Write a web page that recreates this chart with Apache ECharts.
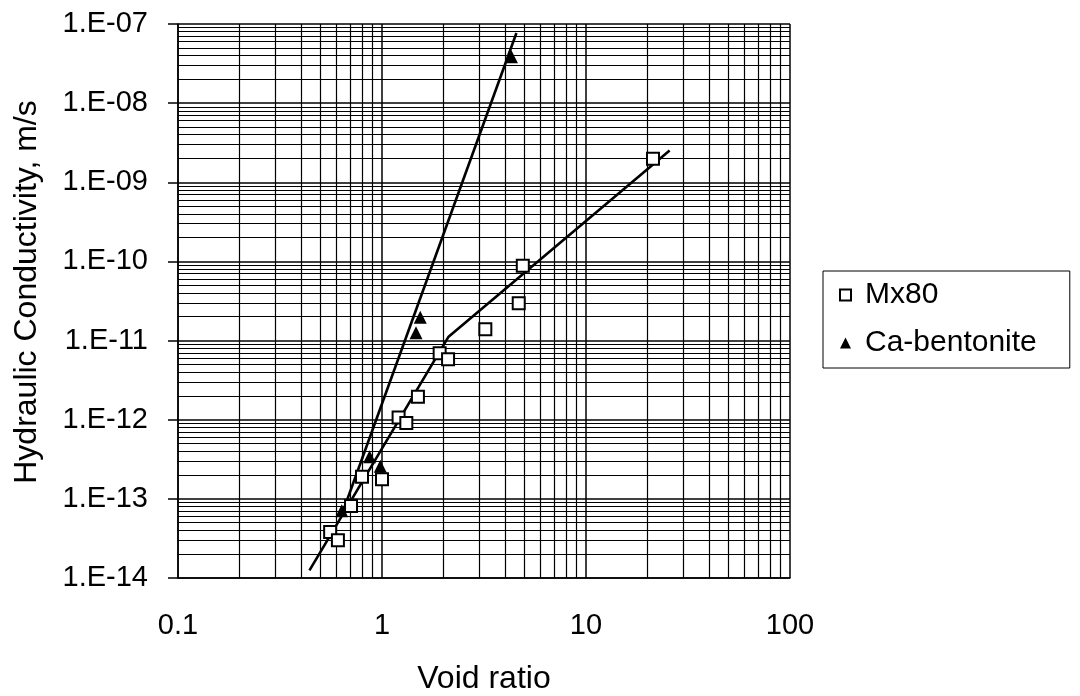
<!DOCTYPE html>
<html>
<head>
<meta charset="utf-8">
<script src="https://cdn.jsdelivr.net/npm/echarts@6/dist/echarts.min.js"></script>
<style>
  html, body { margin: 0; padding: 0; background: #fff; }
  #chart { width: 1080px; height: 696px; }
</style>
</head>
<body>
<div id="chart"></div>
<script>
// data (void ratio, hydraulic conductivity m/s)
const mx80X = [0.557, 0.608, 0.705, 0.798, 1.0, 1.206, 1.316, 1.5, 1.917, 2.108, 3.21, 4.68, 4.9, 21.3];
const mx80Y = [3.8e-14, 3.0e-14, 8.1e-14, 1.9e-13, 1.77e-13, 1.07e-12, 9.1e-13, 1.95e-12, 6.9e-12, 5.8e-12, 1.39e-11, 2.96e-11, 8.85e-11, 1.98e-9];
const caX = [0.635, 0.869, 0.981, 1.468, 1.54, 4.31];
const caY = [7.1e-14, 3.4e-13, 2.59e-13, 1.26e-11, 1.97e-11, 3.86e-8];

// hand drawn fit lines
const mx80LineX = [0.441, 2.12, 25.7];
const mx80LineY = [1.25e-14, 1.12e-11, 2.52e-9];
const caLineX = [0.631, 4.56];
const caLineY = [6.04e-14, 7.7e-8];

// axes
const xTickLabels = ['0.1', '1', '10', '100'];
const yTickLabels = ['1.E-14', '1.E-13', '1.E-12', '1.E-11', '1.E-10', '1.E-09', '1.E-08', '1.E-07'];
const xDecades = [0.1, 1, 10];
const yDecades = [1e-14, 1e-13, 1e-12, 1e-11, 1e-10, 1e-9, 1e-8];
const minorSteps = [2, 3, 4, 5, 6, 7, 8, 9];

const FONT = '"Liberation Sans", Arial, sans-serif';

function pairs(xs, ys) {
  return xs.map((x, i) => [x, ys[i]]);
}

// minor grid lines (2..9 in each decade)
let minorX = [];
xDecades.forEach(d => minorSteps.forEach(k => minorX.push({ xAxis: +(d * k).toPrecision(3) })));
let minorY = [];
yDecades.forEach(d => minorSteps.forEach(k => minorY.push({ yAxis: +(d * k).toPrecision(3) })));

const chart = echarts.init(document.getElementById('chart'));

chart.setOption({
  animation: false,
  backgroundColor: '#fff',
  grid: {
    left: 178,
    right: 290,
    top: 24,
    bottom: 118,
    containLabel: false,
    outerBoundsMode: 'none',
  },
  legend: {
    orient: 'vertical',
    left: 823,
    top: 271,
    data: ['Mx80', 'Ca-bentonite'],
    borderColor: '#000',
    borderWidth: 1,
    borderRadius: 0,
    padding: [7, 33, 8, 16],
    itemWidth: 11,
    itemHeight: 11,
    itemGap: 14,
    selectedMode: false,
    textStyle: {
      fontFamily: FONT,
      fontSize: 30,
      color: '#000',
      lineHeight: 34,
      padding: [0, 0, 0, 9],
    },
  },
  graphic: [
    {
      type: 'text',
      x: 27,
      y: 292,
      rotation: Math.PI / 2,
      style: {
        text: 'Hydraulic Conductivity, m/s',
        font: '32px ' + FONT,
        fill: '#000',
        align: 'center',
        verticalAlign: 'middle',
      },
    },
  ],
  xAxis: {
    type: 'log',
    logBase: 10,
    min: 0.1,
    max: 100,
    name: 'Void ratio',
    nameLocation: 'middle',
    nameGap: 85,
    nameTextStyle: { fontFamily: FONT, fontSize: 32, color: '#000', verticalAlign: 'top' },
    axisLine: { show: true, lineStyle: { color: '#000', width: 1.5 } },
    axisTick: { show: false },
    axisLabel: {
      margin: 33,
      fontFamily: FONT,
      fontSize: 29,
      color: '#000',
      formatter: v => xTickLabels[Math.round(Math.log10(v)) + 1],
    },
    splitLine: { show: true, lineStyle: { color: '#000', width: 1.5 } },
  },
  yAxis: {
    type: 'log',
    logBase: 10,
    min: 1e-14,
    max: 1e-7,
    axisLine: { show: true, lineStyle: { color: '#000', width: 1.5 } },
    axisTick: { show: true, inside: false, length: 10, lineStyle: { color: '#000', width: 1.5 } },
    axisLabel: {
      margin: 30,
      fontFamily: FONT,
      fontSize: 29,
      color: '#000',
      formatter: v => yTickLabels[Math.round(Math.log10(v)) + 14],
    },
    splitLine: { show: true, lineStyle: { color: '#000', width: 1.5 } },
  },
  series: [
    {
      name: 'grid',
      type: 'line',
      data: [],
      silent: true,
      z: 1,
      markLine: {
        silent: true,
        precision: 20,
        symbol: ['none', 'none'],
        label: { show: false },
        lineStyle: { color: '#000', width: 1.2, type: 'solid' },
        emphasis: { disabled: true },
        data: minorX.concat(minorY),
      },
    },
    {
      name: 'Mx80 fit',
      type: 'line',
      data: pairs(mx80LineX, mx80LineY),
      symbol: 'none',
      z: 3,
      lineStyle: { color: '#000', width: 2.6 },
    },
    {
      name: 'Ca fit',
      type: 'line',
      data: pairs(caLineX, caLineY),
      symbol: 'none',
      z: 3,
      lineStyle: { color: '#000', width: 2.6 },
    },
    {
      name: 'Mx80',
      type: 'scatter',
      data: pairs(mx80X, mx80Y),
      symbol: 'rect',
      symbolSize: 12,
      z: 5,
      itemStyle: { color: '#fff', borderColor: '#000', borderWidth: 2, opacity: 1 },
    },
    {
      name: 'Ca-bentonite',
      type: 'scatter',
      data: pairs(caX, caY),
      symbol: 'triangle',
      symbolSize: 13,
      z: 5,
      itemStyle: { color: '#000', opacity: 1 },
    },
  ],
});
</script>
</body>
</html>
